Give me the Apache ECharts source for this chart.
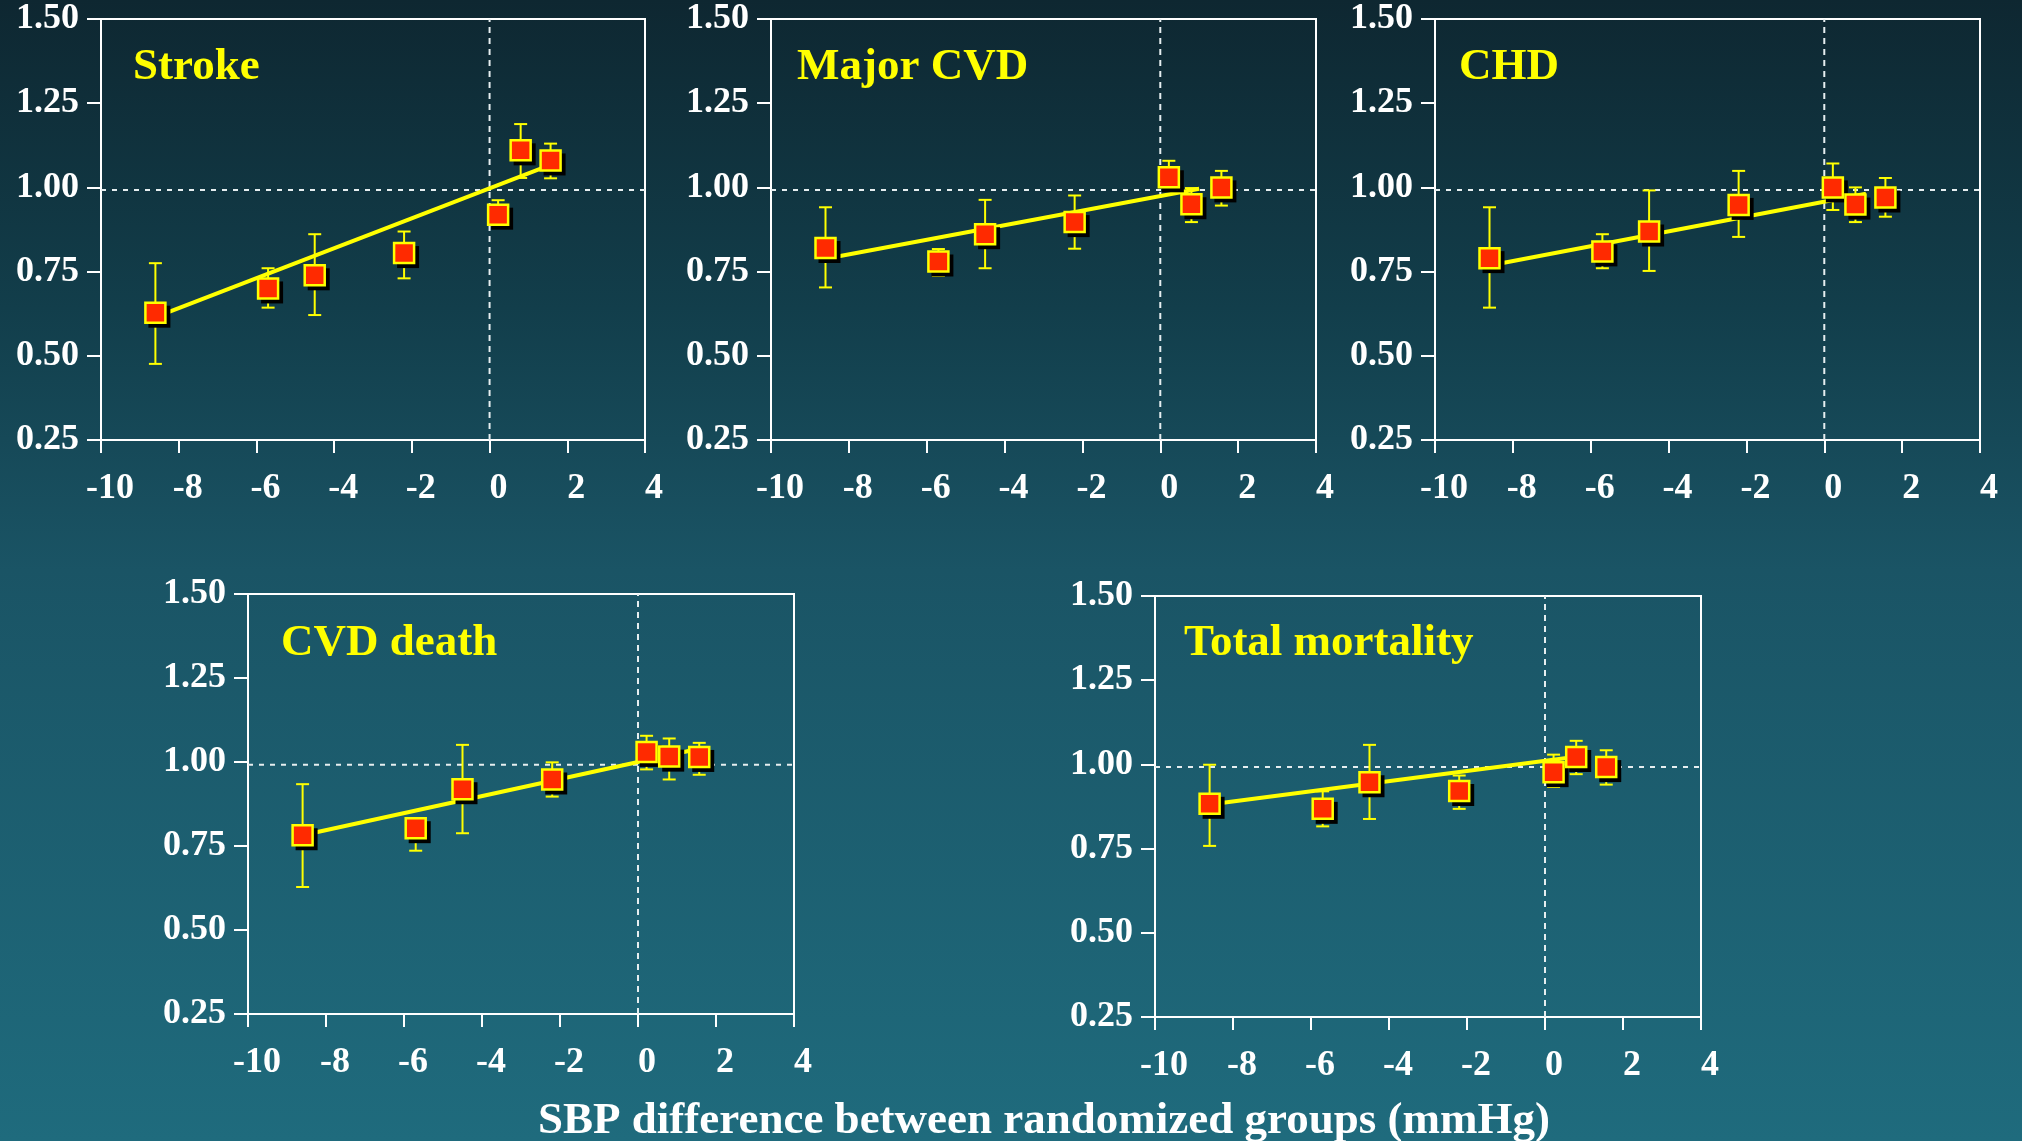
<!DOCTYPE html>
<html>
<head>
<meta charset="utf-8">
<script src="https://cdn.jsdelivr.net/npm/echarts@6/dist/echarts.min.js"></script>
<style>
  html, body { margin: 0; padding: 0; }
  #chart { width: 2022px; height: 1141px; }
</style>
</head>
<body>
<div id="chart"></div>
<script>
// ---------- data ----------
const xTicks = [-10, -8, -6, -4, -2, 0, 2, 4];
const yTicks = [0.25, 0.50, 0.75, 1.00, 1.25, 1.50];
const sbpDiff = [-8.6, -5.7, -4.5, -2.2, 0.22, 0.8, 1.57];

const panelTitles = ['Stroke', 'Major CVD', 'CHD', 'CVD death', 'Total mortality'];

const strokeRR = [0.628, 0.700, 0.739, 0.805, 0.919, 1.110, 1.080];
const strokeLo = [0.476, 0.643, 0.621, 0.730, 0.885, 1.028, 1.027];
const strokeHi = [0.775, 0.760, 0.861, 0.869, 0.962, 1.188, 1.130];
const strokeFitX = [-8.6, 1.45];
const strokeFitY = [0.615, 1.062];

const majorRR = [0.820, 0.780, 0.861, 0.897, 1.030, 0.950, 1.000];
const majorLo = [0.703, 0.737, 0.760, 0.818, 0.990, 0.897, 0.946];
const majorHi = [0.941, 0.817, 0.963, 0.976, 1.079, 0.998, 1.049];
const majorFitX = [-8.6, 1.0];
const majorFitY = [0.788, 0.996];

const chdRR = [0.790, 0.810, 0.869, 0.948, 1.000, 0.949, 0.970];
const chdLo = [0.643, 0.760, 0.752, 0.853, 0.933, 0.897, 0.913];
const chdHi = [0.941, 0.861, 0.991, 1.049, 1.071, 1.000, 1.028];
const chdFitX = [-8.6, 1.07];
const chdFitY = [0.768, 0.981];

const cvdDeathRR = [0.782, 0.803, 0.919, 0.948, 1.030, 1.016, 1.015];
const cvdDeathLo = [0.628, 0.736, 0.788, 0.897, 0.978, 0.948, 0.962];
const cvdDeathHi = [0.934, 0.832, 1.051, 0.999, 1.078, 1.070, 1.057];
const cvdDeathFitX = [-8.6, 1.5];
const cvdDeathFitY = [0.782, 1.038];

const totalRR = [0.883, 0.868, 0.947, 0.921, 0.977, 1.022, 0.992];
const totalLo = [0.758, 0.816, 0.838, 0.868, 0.933, 0.971, 0.940];
const totalHi = [0.999, 0.920, 1.058, 0.967, 1.029, 1.070, 1.042];
const totalFitX = [-8.6, 0.8];
const totalFitY = [0.881, 1.023];

const refX = 0;        // vertical reference (no difference)
const refY = 0.992;    // horizontal reference (relative risk ~1)

const xAxisTitle = 'SBP difference between randomized groups (mmHg)';

// ---------- layout ----------
const panels = [
  { rr: strokeRR, lo: strokeLo, hi: strokeHi, fx: strokeFitX, fy: strokeFitY,
    grid: { left: 101, top: 19, width: 544, height: 421 }, title: [133, 67] },
  { rr: majorRR, lo: majorLo, hi: majorHi, fx: majorFitX, fy: majorFitY,
    grid: { left: 771, top: 19, width: 545, height: 421 }, title: [797, 67] },
  { rr: chdRR, lo: chdLo, hi: chdHi, fx: chdFitX, fy: chdFitY,
    grid: { left: 1435, top: 19, width: 545, height: 421 }, title: [1459, 67] },
  { rr: cvdDeathRR, lo: cvdDeathLo, hi: cvdDeathHi, fx: cvdDeathFitX, fy: cvdDeathFitY,
    grid: { left: 248, top: 594, width: 546, height: 420 }, title: [281, 643] },
  { rr: totalRR, lo: totalLo, hi: totalHi, fx: totalFitX, fy: totalFitY,
    grid: { left: 1155, top: 596, width: 546, height: 421 }, title: [1184, 643] }
];

const FONT = '"Liberation Serif", "Times New Roman", serif';
const YELLOW = '#ffff00';
const WHITE = '#ffffff';

const grids = [], xAxes = [], yAxes = [], series = [], graphics = [];

panels.forEach((p, i) => {
  grids.push(Object.assign({ show: true, borderColor: WHITE, borderWidth: 2,
    backgroundColor: 'transparent', containLabel: false }, p.grid));
  xAxes.push({
    type: 'value', gridIndex: i, min: xTicks[0], max: xTicks[xTicks.length - 1], interval: 2,
    axisLine: { show: true, onZero: false, lineStyle: { color: WHITE, width: 2 } },
    axisTick: { show: true, inside: false, length: 13, lineStyle: { color: WHITE, width: 2 } },
    splitLine: { show: false },
    axisLabel: { color: WHITE, fontFamily: FONT, fontWeight: 'bold', fontSize: 36,
      margin: 31, padding: [0, 0, 0, 18] }
  });
  yAxes.push({
    type: 'value', gridIndex: i, min: yTicks[0], max: yTicks[yTicks.length - 1], interval: 0.25,
    axisLine: { show: true, onZero: false, lineStyle: { color: WHITE, width: 2 } },
    axisTick: { show: true, inside: false, length: 14, lineStyle: { color: WHITE, width: 2 } },
    splitLine: { show: false },
    axisLabel: { color: WHITE, fontFamily: FONT, fontWeight: 'bold', fontSize: 36,
      margin: 22, padding: [4, 0, 0, 0], formatter: v => v.toFixed(2) }
  });

  // reference lines
  series.push({
    type: 'line', xAxisIndex: i, yAxisIndex: i, symbol: 'none', silent: true, z: 1,
    data: [[xTicks[0], refY], [xTicks[xTicks.length - 1], refY]],
    lineStyle: { color: '#e6eef0', width: 2, type: [5, 6] }
  });
  series.push({
    type: 'line', xAxisIndex: i, yAxisIndex: i, symbol: 'none', silent: true, z: 1,
    data: [[refX, yTicks[0]], [refX, yTicks[yTicks.length - 1]]],
    lineStyle: { color: '#e6eef0', width: 2, type: [6, 5] }
  });

  // error bars
  series.push({
    type: 'custom', xAxisIndex: i, yAxisIndex: i, z: 2, silent: true,
    data: sbpDiff.map((x, k) => [x, p.lo[k], p.hi[k]]),
    renderItem: (params, api) => {
      const lo = api.coord([api.value(0), api.value(1)]);
      const hi = api.coord([api.value(0), api.value(2)]);
      const cw = 6.5;
      const st = { stroke: YELLOW, lineWidth: 2 };
      return { type: 'group', children: [
        { type: 'line', shape: { x1: lo[0], y1: lo[1], x2: hi[0], y2: hi[1] }, style: st },
        { type: 'line', shape: { x1: lo[0] - cw, y1: lo[1], x2: lo[0] + cw, y2: lo[1] }, style: st },
        { type: 'line', shape: { x1: hi[0] - cw, y1: hi[1], x2: hi[0] + cw, y2: hi[1] }, style: st }
      ]};
    }
  });

  // regression line
  series.push({
    type: 'line', xAxisIndex: i, yAxisIndex: i, symbol: 'none', silent: true, z: 3,
    data: p.fx.map((x, k) => [x, p.fy[k]]),
    lineStyle: { color: YELLOW, width: 4 }
  });

  // point shadows (black drop shadow, offset down-right)
  series.push({
    type: 'scatter', xAxisIndex: i, yAxisIndex: i, z: 4, silent: true,
    symbol: 'rect', symbolSize: 22, symbolOffset: [4, 4],
    data: sbpDiff.map((x, k) => [x, p.rr[k]]),
    itemStyle: { color: '#000000', opacity: 1 }
  });

  // points
  series.push({
    type: 'scatter', xAxisIndex: i, yAxisIndex: i, z: 5, silent: true,
    symbol: 'rect', symbolSize: 20,
    data: sbpDiff.map((x, k) => [x, p.rr[k]]),
    itemStyle: { color: '#ff2a00', borderColor: YELLOW, borderWidth: 2.5, opacity: 1 }
  });

  graphics.push({
    type: 'text', x: p.title[0], y: p.title[1], z: 10,
    style: { text: panelTitles[i], fill: YELLOW, font: 'bold 45px ' + FONT,
      textAlign: 'left', textVerticalAlign: 'middle' }
  });
});

graphics.push({
  type: 'text', x: 1044, y: 1121, z: 10,
  style: { text: xAxisTitle, fill: WHITE, font: 'bold 45px ' + FONT,
    textAlign: 'center', textVerticalAlign: 'middle' }
});

const chart = echarts.init(document.getElementById('chart'), null, { renderer: 'canvas' });
chart.setOption({
  animation: false,
  backgroundColor: new echarts.graphic.LinearGradient(0, 0, 0, 1, [
    { offset: 0, color: '#0e2731' },
    { offset: 0.27, color: '#123e4b' },
    { offset: 0.5, color: '#1a5465' },
    { offset: 1, color: '#1f6b7d' }
  ]),
  grid: grids,
  xAxis: xAxes,
  yAxis: yAxes,
  series: series,
  graphic: graphics
});
</script>
</body>
</html>
